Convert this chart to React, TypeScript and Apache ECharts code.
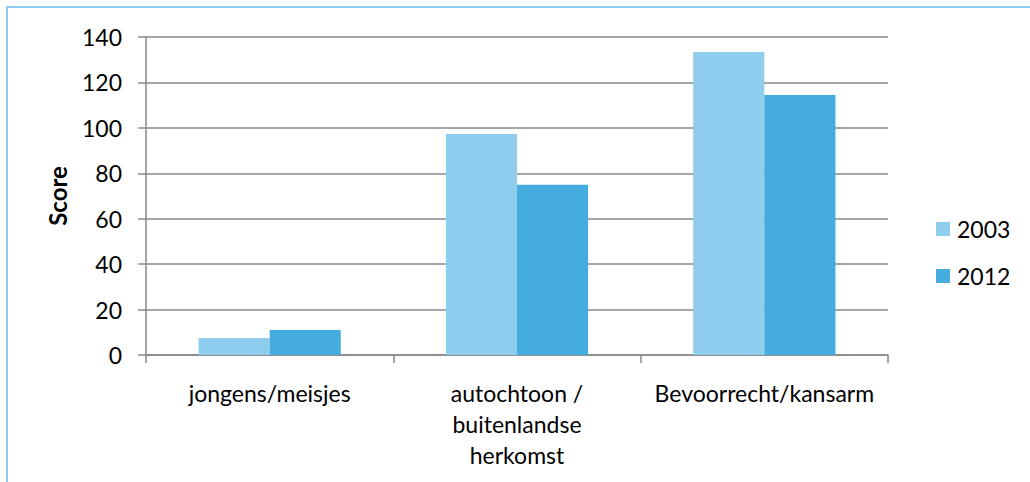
import React, { useEffect, useRef } from "react";
import * as echarts from "echarts";

const categories = ["jongens/meisjes", "autochtoon /\nbuitenlandse\nherkomst", "Bevoorrecht/kansarm"];
const series2003 = [7.5, 97.3, 133.4];
const series2012 = [11, 74.9, 114.5];
const seriesNames = ["2003", "2012"];
const yTicks = { min: 0, max: 140, interval: 20 };

const FONT = "Lato, 'Open Sans', sans-serif";

export default function App() {
  const ref = useRef<HTMLDivElement>(null);
  useEffect(() => {
    if (!ref.current) return;
    const chart = echarts.init(ref.current, null, { renderer: "svg" });
    chart.setOption({
      animation: false,
      backgroundColor: "#ffffff",
      textStyle: { fontFamily: FONT },
      graphic: [
        {
          type: "rect",
          shape: { x: 7, y: 7, width: 1100, height: 600 },
          style: { fill: "none", stroke: "#8ecdef", lineWidth: 2 },
          silent: true,
        },
      ],
      grid: { left: 146, right: 142, top: 37, bottom: 127, containLabel: false },
      legend: {
        orient: "vertical",
        left: 931,
        top: 212,
        itemWidth: 14,
        itemHeight: 14,
        itemGap: 23,
        icon: "rect",
        textStyle: { fontFamily: FONT, fontSize: 23, lineHeight: 24, color: "#000", padding: [0, 0, 0, 2] },
        data: seriesNames,
      },
      xAxis: {
        type: "category",
        data: categories,
        axisLine: { lineStyle: { color: "#888888", width: 1.5 } },
        axisTick: { show: true, length: 8, lineStyle: { color: "#888888", width: 1.5 } },
        axisLabel: {
          fontFamily: FONT,
          fontSize: 23,
          color: "#000",
          margin: 22,
          lineHeight: 31,
          interval: 0,
        },
      },
      yAxis: {
        type: "value",
        min: yTicks.min,
        max: yTicks.max,
        interval: yTicks.interval,
        name: "Score",
        nameLocation: "middle",
        nameGap: 77,
        nameRotate: 90,
        nameTextStyle: { fontFamily: FONT, fontSize: 24, fontWeight: "bold", color: "#000" },
        axisLine: { show: true, lineStyle: { color: "#888888", width: 1.5 } },
        axisTick: { show: true, length: 8, inside: false, lineStyle: { color: "#888888", width: 1.5 } },
        splitLine: { show: true, lineStyle: { color: "#888888", width: 1.5 } },
        axisLabel: { fontFamily: FONT, fontSize: 23, color: "#000", margin: 24 },
      },
      series: [
        {
          name: seriesNames[0],
          type: "bar",
          data: series2003,
          itemStyle: { color: "#8ecdee" },
          barGap: "0%",
          barCategoryGap: "42.5%",
        },
        {
          name: seriesNames[1],
          type: "bar",
          data: series2012,
          itemStyle: { color: "#45ace0" },
          barGap: "0%",
          barCategoryGap: "42.5%",
        },
      ],
    });
    return () => chart.dispose();
  }, []);
  return (
    <div
      ref={ref}
      style={{ position: "fixed", left: 0, top: 0, width: 1030, height: 482 }}
    />
  );
}
